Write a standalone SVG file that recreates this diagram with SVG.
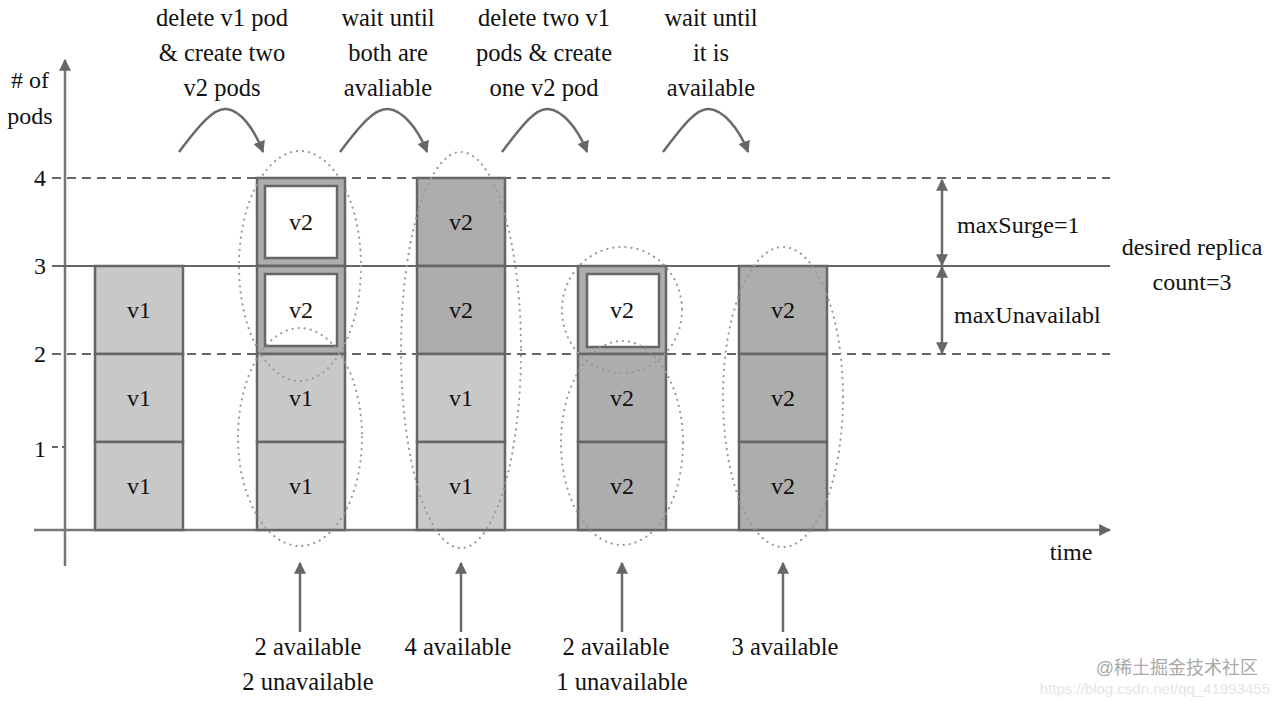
<svg xmlns="http://www.w3.org/2000/svg" width="1280" height="701" viewBox="0 0 1280 701">
<style>
text{font-family:"Liberation Serif","Times New Roman",serif;fill:#111;}
.t{font-size:24.5px;text-anchor:middle;}
.lbl{font-size:24px;text-anchor:middle;dominant-baseline:central;}
.grid{stroke:#666;stroke-width:2;fill:none;}
.dash{stroke-dasharray:9 6;}
.axis{stroke:#777;stroke-width:2.5;fill:none;}
.light{fill:#c8c8c8;stroke:#666;stroke-width:2.5;}
.dark{fill:#adadad;stroke:#666;stroke-width:2.5;}
.inner{fill:#fff;stroke:#666;stroke-width:2.5;}
.dot{fill:none;stroke:#9a9a9a;stroke-width:2.2;stroke-dasharray:0.1 6;stroke-linecap:round;}
.arr{fill:none;stroke:#6a6a6a;stroke-width:2.5;}
</style>
<defs>
<marker id="ah" viewBox="0 0 10 10" refX="9" refY="5" markerWidth="12" markerHeight="12" markerUnits="userSpaceOnUse" orient="auto-start-reverse">
<path d="M0,0 L10,5 L0,10 z" fill="#666"/>
</marker>
</defs>

<g id="axes">
<line class="axis" x1="65" y1="566" x2="65" y2="60" marker-end="url(#ah)"/>
<line class="axis" x1="34" y1="530" x2="1110" y2="530" marker-end="url(#ah)"/>
<text x="30" y="80" style="font-size:24px;text-anchor:middle;dominant-baseline:central">#&#160;of</text>
<text x="30" y="116" style="font-size:24px;text-anchor:middle;dominant-baseline:central">pods</text>
<text x="1071" y="552" style="font-size:24px;text-anchor:middle;dominant-baseline:central">time</text>
<text x="40" y="178" class="lbl">4</text>
<text x="40" y="266" class="lbl">3</text>
<text x="40" y="354" class="lbl">2</text>
<text x="40" y="449" class="lbl">1</text>
<line class="grid" x1="52" y1="447" x2="65" y2="447" style="stroke-dasharray:6 4"/>
</g>

<g id="gridlines">
<line class="grid dash" x1="52" y1="178" x2="1110" y2="178"/>
<line class="grid" x1="52" y1="266" x2="1110" y2="266"/>
<line class="grid dash" x1="52" y1="354" x2="1110" y2="354"/>
</g>

<g id="col1">
<rect class="light" x="95" y="266" width="88" height="88"/>
<rect class="light" x="95" y="354" width="88" height="88"/>
<rect class="light" x="95" y="442" width="88" height="88"/>
<text x="139" y="310" class="lbl">v1</text>
<text x="139" y="398" class="lbl">v1</text>
<text x="139" y="486" class="lbl">v1</text>
</g>

<g id="col2">
<rect class="dark" x="257" y="178" width="88" height="88"/>
<rect class="inner" x="265" y="186" width="72" height="72"/>
<rect class="dark" x="257" y="266" width="88" height="88"/>
<rect class="inner" x="265" y="274" width="72" height="72"/>
<rect class="light" x="257" y="354" width="88" height="88"/>
<rect class="light" x="257" y="442" width="88" height="88"/>
<text x="301" y="222" class="lbl">v2</text>
<text x="301" y="310" class="lbl">v2</text>
<text x="301" y="398" class="lbl">v1</text>
<text x="301" y="486" class="lbl">v1</text>
<ellipse class="dot" cx="300" cy="266" rx="61" ry="115"/>
<ellipse class="dot" cx="300" cy="437" rx="62" ry="109"/>
</g>

<g id="col3">
<rect class="dark" x="417" y="178" width="88" height="88"/>
<rect class="dark" x="417" y="266" width="88" height="88"/>
<rect class="light" x="417" y="354" width="88" height="88"/>
<rect class="light" x="417" y="442" width="88" height="88"/>
<text x="461" y="222" class="lbl">v2</text>
<text x="461" y="310" class="lbl">v2</text>
<text x="461" y="398" class="lbl">v1</text>
<text x="461" y="486" class="lbl">v1</text>
<ellipse class="dot" cx="461" cy="350" rx="60" ry="198"/>
</g>

<g id="col4">
<rect class="dark" x="578" y="266" width="88" height="88"/>
<rect class="inner" x="587" y="274" width="72" height="73"/>
<rect class="dark" x="578" y="354" width="88" height="88"/>
<rect class="dark" x="578" y="442" width="88" height="88"/>
<text x="622" y="310" class="lbl">v2</text>
<text x="622" y="398" class="lbl">v2</text>
<text x="622" y="486" class="lbl">v2</text>
<ellipse class="dot" cx="622" cy="310" rx="60" ry="63"/>
<ellipse class="dot" cx="622" cy="443" rx="61" ry="102"/>
</g>

<g id="col5">
<rect class="dark" x="739" y="266" width="88" height="88"/>
<rect class="dark" x="739" y="354" width="88" height="88"/>
<rect class="dark" x="739" y="442" width="88" height="88"/>
<text x="783" y="310" class="lbl">v2</text>
<text x="783" y="398" class="lbl">v2</text>
<text x="783" y="486" class="lbl">v2</text>
<ellipse class="dot" cx="783" cy="397" rx="60" ry="150"/>
</g>

<g id="steps">
<text class="t" x="222" y="26">delete v1 pod</text>
<text class="t" x="222" y="61">&amp; create two</text>
<text class="t" x="222" y="96">v2 pods</text>
<text class="t" x="388" y="26">wait until</text>
<text class="t" x="388" y="61">both are</text>
<text class="t" x="388" y="96">avaliable</text>
<text class="t" x="544" y="26">delete two v1</text>
<text class="t" x="544" y="61">pods &amp; create</text>
<text class="t" x="544" y="96">one v2 pod</text>
<text class="t" x="711" y="26">wait until</text>
<text class="t" x="711" y="61">it is</text>
<text class="t" x="711" y="96">available</text>
</g>

<g id="status">
<text class="t" x="308" y="655">2 available</text>
<text class="t" x="308" y="690">2 unavailable</text>
<text class="t" x="458" y="655">4 available</text>
<text class="t" x="616" y="655">2 available</text>
<text class="t" x="622" y="690">1 unavailable</text>
<text class="t" x="785" y="655">3 available</text>
</g>

<g id="limits">
<text x="957" y="225" style="font-size:24px;dominant-baseline:central">maxSurge=1</text>
<text x="954" y="315" style="font-size:24px;dominant-baseline:central">maxUnavailabl</text>
<text x="1192" y="247" style="font-size:24px;text-anchor:middle;dominant-baseline:central">desired replica</text>
<text x="1192" y="282" style="font-size:24px;text-anchor:middle;dominant-baseline:central">count=3</text>
</g>

<g id="connectors">
<path class="arr" d="M179,152 C200,124 214,108 226,109 C240,110 254,128 263,152" marker-end="url(#ah)"/>
<path class="arr" d="M340,152 C361,124 375,108 388,109 C402,110 418,128 427,152" marker-end="url(#ah)"/>
<path class="arr" d="M502,152 C523,124 536,108 548,109 C562,110 578,128 587,152" marker-end="url(#ah)"/>
<path class="arr" d="M663,152 C684,124 697,108 709,109 C723,110 739,128 748,152" marker-end="url(#ah)"/>
<line class="arr" x1="300" y1="632" x2="300" y2="563" marker-end="url(#ah)"/>
<line class="arr" x1="461" y1="632" x2="461" y2="563" marker-end="url(#ah)"/>
<line class="arr" x1="622" y1="632" x2="622" y2="563" marker-end="url(#ah)"/>
<line class="arr" x1="783" y1="632" x2="783" y2="563" marker-end="url(#ah)"/>
<line class="arr" x1="942" y1="180" x2="942" y2="265" marker-start="url(#ah)" marker-end="url(#ah)"/>
<line class="arr" x1="942" y1="267" x2="942" y2="353" marker-start="url(#ah)" marker-end="url(#ah)"/>
</g>

<g id="watermark">
<text x="1270" y="694" style="font-family:'Liberation Sans',sans-serif;font-size:15px;fill:#e6e6e6;text-anchor:end">https://blog.csdn.net/qq_41993455</text>
<text x="1258" y="674" style="font-family:'Liberation Sans','Noto Sans CJK SC',sans-serif;font-size:18px;fill:#a8a8a8;text-anchor:end">@稀土掘金技术社区</text>
</g>
</svg>
